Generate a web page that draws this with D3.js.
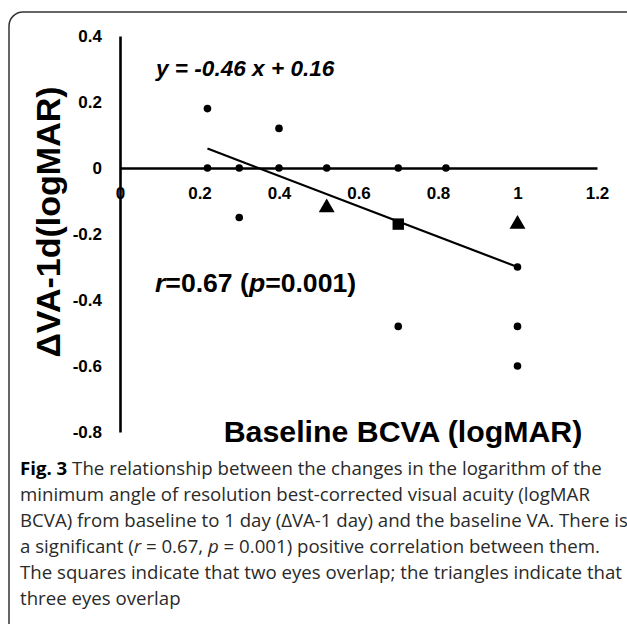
<!DOCTYPE html>
<html>
<head>
  <meta charset="UTF-8">
  <title>Fig. 3</title>
  <script src="https://cdn.jsdelivr.net/npm/d3@7"></script>
  <style>
    body { margin: 0; background: #fff; }
    svg { display: block; }
  </style>
</head>
<body>
  <svg id="chart" width="627" height="624"></svg>

  <script>
    // tick labels
    const xTicks = [0, 0.2, 0.4, 0.6, 0.8, 1, 1.2];
    const yTicks = [0.4, 0.2, 0, -0.2, -0.4, -0.6, -0.8];

    // single eyes (circles)
    const dotX = [0.22, 0.22, 0.3, 0.4, 0.52, 0.7, 0.82, 0.4, 0.3, 1, 0.7, 1, 1];
    const dotY = [0.18, 0, 0, 0, 0, 0, 0, 0.12, -0.15, -0.3, -0.48, -0.48, -0.6];
    // two eyes overlap (squares)
    const squareX = [0.7];
    const squareY = [-0.17];
    // three eyes overlap (triangles)
    const triX = [0.52, 1];
    const triY = [-0.12, -0.17];

    // regression line y = -0.46 x + 0.16
    const slope = -0.46;
    const intercept = 0.16;
    const fitRange = [0.22, 1];

    const captionLines = [
      [['Fig. 3', 'b'], [' The relationship between the changes in the logarithm of the', '']],
      [['minimum angle of resolution best-corrected visual acuity (logMAR', '']],
      [['BCVA) from baseline to 1 day (ΔVA-1 day) and the baseline VA. There is', '']],
      [['a significant (', ''], ['r', 'i'], [' = 0.67, ', ''], ['p', 'i'], [' = 0.001) positive correlation between them.', '']],
      [['The squares indicate that two eyes overlap; the triangles indicate that', '']],
      [['three eyes overlap', '']]
    ];

    const svg = d3.select('#chart');
    const chartFont = '"Liberation Sans", Arial, sans-serif';

    // frame around figure + caption
    svg.append('rect')
      .attr('x', 9).attr('y', 12)
      .attr('width', 650).attr('height', 630)
      .attr('rx', 14)
      .attr('fill', 'none')
      .attr('stroke', '#333')
      .attr('stroke-width', 1.5);

    const x = d3.scaleLinear().domain([0, 1.2]).range([120, 597]);
    const y = d3.scaleLinear().domain([-0.8, 0.4]).range([432, 36]);

    const fmt = d => String(+d.toFixed(1));

    // x axis sits on y = 0
    const xAxis = svg.append('g')
      .attr('transform', `translate(0,${y(0)})`)
      .call(d3.axisBottom(x).tickValues(xTicks).tickFormat(fmt).tickSize(0).tickPadding(19));

    // y axis sits on x = 0
    const yAxis = svg.append('g')
      .attr('transform', `translate(${x(0)},0)`)
      .call(d3.axisLeft(y).tickValues(yTicks).tickFormat(fmt).tickSize(0).tickPadding(18));

    [xAxis, yAxis].forEach(a => {
      a.select('.domain').attr('stroke', '#000').attr('stroke-width', 2.6);
      a.selectAll('text')
        .attr('fill', '#000')
        .style('font-family', chartFont)
        .style('font-weight', 'bold')
        .style('font-size', '17px');
    });

    // regression line
    svg.append('line')
      .attr('x1', x(fitRange[0])).attr('y1', y(slope * fitRange[0] + intercept))
      .attr('x2', x(fitRange[1])).attr('y2', y(slope * fitRange[1] + intercept))
      .attr('stroke', '#000')
      .attr('stroke-width', 2.2);

    // markers
    svg.append('g').selectAll('circle')
      .data(dotX.map((d, i) => [d, dotY[i]]))
      .join('circle')
        .attr('cx', d => x(d[0]))
        .attr('cy', d => y(d[1]))
        .attr('r', 3.8)
        .attr('fill', '#000');

    svg.append('g').selectAll('path')
      .data(squareX.map((d, i) => [d, squareY[i]]))
      .join('path')
        .attr('d', d3.symbol(d3.symbolSquare, 130))
        .attr('transform', d => `translate(${x(d[0])},${y(d[1])})`)
        .attr('fill', '#000');

    svg.append('g').selectAll('path')
      .data(triX.map((d, i) => [d, triY[i]]))
      .join('path')
        .attr('d', d3.symbol(d3.symbolTriangle, 110))
        .attr('transform', d => `translate(${x(d[0])},${y(d[1])})`)
        .attr('fill', '#000');

    // equation
    svg.append('text')
      .attr('x', 156).attr('y', 76)
      .style('font-family', chartFont)
      .style('font-weight', 'bold')
      .style('font-style', 'italic')
      .style('font-size', '22.6px')
      .text('y = -0.46 x + 0.16');

    // correlation
    const rText = svg.append('text')
      .attr('x', 155).attr('y', 292)
      .style('font-family', chartFont)
      .style('font-weight', 'bold')
      .style('font-size', '26.6px');
    rText.append('tspan').style('font-style', 'italic').text('r');
    rText.append('tspan').text('=0.67 (');
    rText.append('tspan').style('font-style', 'italic').text('p');
    rText.append('tspan').text('=0.001)');

    // axis titles
    svg.append('text')
      .attr('transform', 'translate(60,222) rotate(-90)')
      .attr('text-anchor', 'middle')
      .style('font-family', chartFont)
      .style('font-weight', 'bold')
      .style('font-size', '34px')
      .text('ΔVA-1d(logMAR)');

    svg.append('text')
      .attr('x', 403).attr('y', 442)
      .attr('text-anchor', 'middle')
      .style('font-family', chartFont)
      .style('font-weight', 'bold')
      .style('font-size', '30.3px')
      .text('Baseline BCVA (logMAR)');

    // caption
    const cap = svg.append('g')
      .style('font-family', '"Open Sans", "Noto Sans", sans-serif')
      .style('font-size', '19px')
      .attr('fill', '#2a2a2a');

    captionLines.forEach((parts, i) => {
      const t = cap.append('text').attr('x', 20).attr('y', 475 + i * 26);
      parts.forEach(p => {
        const s = t.append('tspan').text(p[0]);
        if (p[1] === 'b') s.style('font-weight', 'bold').attr('fill', '#000');
        if (p[1] === 'i') s.style('font-style', 'italic');
      });
    });

    // squeeze caption to the column width
    const first = cap.select('text').node();
    const w = first.getComputedTextLength();
    const size = 19 * 582 / w;
    cap.style('font-size', size + 'px');
  </script>
</body>
</html>
